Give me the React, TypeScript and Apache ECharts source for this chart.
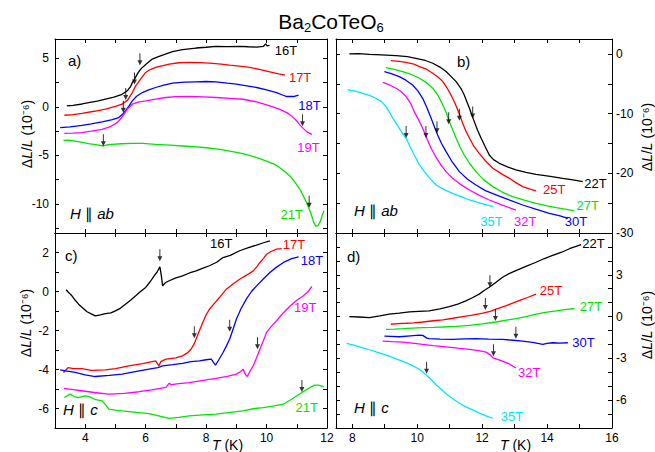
import React, { useEffect, useRef } from "react";
import * as echarts from "echarts";

const FONT = "'Liberation Sans', Arial, Helvetica, sans-serif";

// ---------- Panel a) H || ab, 16-21 T ----------
const A_16T = [[3.39,0.1],[3.6,0.15],[3.9,0.3],[4.11,0.45],[4.4,0.6],[4.67,0.8],[4.95,1.0],[5.22,1.3],[5.39,1.66],[5.5,2.1],[5.56,2.5],[5.65,2.95],[5.72,3.38],[5.8,3.75],[5.89,4.07],[6.05,4.5],[6.22,4.93],[6.4,5.15],[6.56,5.34],[6.89,5.69],[7.22,5.9],[7.67,6.07],[8.0,6.15],[8.33,6.24],[8.7,6.22],[9.11,6.24],[9.4,6.2],[9.67,6.17],[9.9,6.25],[9.97,6.5],[10.02,6.3],[10.1,6.35]];
const A_17T = [[3.31,-0.86],[3.6,-0.8],[3.89,-0.66],[4.3,-0.45],[4.67,-0.24],[5.0,0.05],[5.22,0.28],[5.4,0.7],[5.56,1.48],[5.67,2.17],[5.75,2.5],[5.83,2.86],[6.0,3.55],[6.15,3.85],[6.33,4.07],[6.78,4.41],[7.1,4.55],[7.44,4.59],[7.8,4.57],[8.11,4.52],[8.5,4.42],[8.78,4.31],[9.1,4.2],[9.44,4.07],[9.8,3.85],[10.11,3.62],[10.4,3.4],[10.61,3.28]];
const A_18T = [[3.17,-2.14],[3.5,-2.05],[3.89,-1.9],[4.2,-1.75],[4.56,-1.55],[4.9,-1.3],[5.11,-1.1],[5.25,-0.7],[5.33,-0.41],[5.45,0.1],[5.56,0.62],[5.7,1.1],[5.89,1.48],[6.1,1.75],[6.33,2.0],[6.6,2.25],[6.89,2.45],[7.3,2.55],[7.67,2.59],[8.0,2.62],[8.33,2.59],[8.7,2.45],[9.0,2.34],[9.3,2.2],[9.67,2.0],[10.0,1.75],[10.33,1.48],[10.55,1.2],[10.67,1.07],[10.89,1.07],[11.06,1.21]];
const A_19T = [[3.31,-2.72],[3.6,-2.7],[3.89,-2.66],[4.2,-2.5],[4.56,-2.31],[4.85,-2.0],[5.06,-1.62],[5.18,-1.2],[5.28,-0.76],[5.4,-0.2],[5.56,0.28],[5.75,0.5],[6.0,0.62],[6.33,0.8],[6.67,0.97],[7.0,1.05],[7.44,1.07],[7.9,1.03],[8.33,0.97],[8.8,0.88],[9.22,0.79],[9.7,0.5],[10.11,0.1],[10.4,-0.2],[10.67,-0.59],[10.85,-1.0],[11.0,-1.45],[11.1,-1.85],[11.22,-2.24],[11.35,-2.6],[11.5,-2.83]];
const A_21T = [[3.28,-3.45],[3.45,-3.42],[3.67,-3.52],[3.9,-3.65],[4.11,-3.79],[4.4,-3.92],[4.61,-4.03],[4.75,-3.9],[4.89,-3.86],[5.2,-3.8],[5.56,-3.76],[5.9,-3.75],[6.33,-3.86],[6.8,-3.95],[7.22,-4.03],[7.6,-4.1],[8.0,-4.21],[8.4,-4.35],[8.78,-4.55],[9.1,-4.75],[9.44,-5.0],[9.7,-5.25],[10.0,-5.59],[10.25,-5.9],[10.44,-6.28],[10.6,-6.65],[10.78,-7.14],[10.95,-7.8],[11.11,-8.52],[11.22,-9.2],[11.33,-9.9],[11.42,-10.6],[11.5,-11.28],[11.56,-11.9],[11.63,-12.3],[11.7,-12.25],[11.78,-11.8],[11.85,-11.1],[11.9,-10.7]];
const A_ARROWS = [[5.81,4.3],[5.63,2.3],[5.34,0.7],[5.26,-0.6],[4.6,-4.05],[11.19,-2.0],[11.41,-10.4]];
const A_LABEL_AT = [[10.64,5.79],[11.11,3.03],[11.42,0.1],[11.39,-4.21],[10.83,-11.1]];

// ---------- Panel b) H || ab, 22-35 T ----------
const B_22T = [[7.91,0],[8.2,0.05],[8.53,-0.06],[8.9,-0.15],[9.35,-0.28],[9.7,-0.45],[9.96,-0.73],[10.25,-1.1],[10.48,-1.56],[10.7,-2.2],[10.89,-2.96],[11.05,-3.8],[11.2,-4.64],[11.35,-5.8],[11.45,-6.87],[11.53,-8.0],[11.61,-9.1],[11.68,-10.2],[11.76,-11.34],[11.86,-12.8],[11.97,-14.13],[12.1,-15.6],[12.22,-16.93],[12.35,-17.7],[12.53,-18.32],[12.8,-18.95],[13.04,-19.44],[13.35,-19.85],[13.66,-20.17],[14.1,-20.5],[14.48,-20.84],[14.8,-21.1],[15.1,-21.4]];
const B_25T = [[9.19,-1.12],[9.45,-1.25],[9.66,-1.4],[9.9,-1.7],[10.07,-2.12],[10.3,-2.6],[10.48,-3.24],[10.65,-3.9],[10.79,-4.64],[10.92,-5.7],[11.04,-6.87],[11.15,-8.1],[11.25,-9.39],[11.33,-10.5],[11.4,-11.62],[11.5,-12.9],[11.61,-14.13],[11.75,-15.5],[11.91,-16.65],[12.1,-17.9],[12.33,-19.16],[12.6,-20.1],[12.84,-20.84],[13.05,-21.6],[13.25,-22.23],[13.45,-22.6],[13.66,-22.96]];
const B_27T = [[9.04,-2.29],[9.3,-2.6],[9.55,-2.96],[9.8,-3.4],[10.07,-4.08],[10.28,-4.8],[10.48,-5.75],[10.65,-7.0],[10.79,-8.55],[10.9,-9.9],[10.99,-11.34],[11.1,-12.8],[11.2,-14.13],[11.32,-15.6],[11.45,-16.93],[11.62,-18.4],[11.81,-19.72],[12.05,-21.1],[12.33,-22.23],[12.6,-23.1],[12.94,-23.91],[13.3,-24.5],[13.66,-25.03],[14.0,-25.45],[14.28,-25.75],[14.6,-26.05],[14.84,-26.31]];
const B_30T = [[8.99,-2.96],[9.2,-3.3],[9.45,-3.8],[9.65,-4.4],[9.86,-5.2],[10.02,-6.2],[10.17,-7.43],[10.3,-9.0],[10.43,-10.78],[10.53,-12.2],[10.63,-13.58],[10.75,-15.0],[10.89,-16.37],[11.08,-18.1],[11.3,-19.72],[11.55,-21.0],[11.81,-21.96],[12.1,-22.9],[12.43,-23.63],[12.85,-24.5],[13.25,-25.31],[13.65,-26.0],[14.07,-26.7],[14.4,-27.15],[14.64,-27.54]];
const B_32T = [[8.94,-4.75],[9.15,-5.2],[9.35,-5.75],[9.5,-6.3],[9.66,-7.15],[9.8,-8.3],[9.91,-9.66],[10.04,-11.0],[10.17,-12.46],[10.3,-14.2],[10.43,-15.81],[10.58,-17.3],[10.73,-18.6],[10.9,-19.8],[11.09,-20.84],[11.35,-21.9],[11.61,-22.79],[11.9,-23.65],[12.22,-24.47],[12.6,-25.3],[13.04,-26.15]];
const B_35T = [[7.86,-6.03],[8.1,-6.25],[8.32,-6.59],[8.53,-6.95],[8.73,-7.43],[8.9,-8.0],[9.04,-8.83],[9.15,-9.8],[9.25,-10.78],[9.35,-11.6],[9.45,-12.46],[9.55,-13.3],[9.66,-14.13],[9.78,-15.5],[9.91,-16.93],[10.05,-18.4],[10.22,-19.72],[10.4,-20.9],[10.58,-21.96],[10.82,-22.7],[11.09,-23.35],[11.35,-23.9],[11.61,-24.47],[11.95,-25.0],[12.33,-25.59]];
const B_ARROWS = [[11.71,-10.8],[11.3,-11.2],[10.97,-11.8],[10.61,-13.3],[10.27,-14.1],[9.66,-14.1]];
const B_LABEL_AT = [[15.49,-21.79],[14.22,-22.79],[15.25,-25.42],[14.89,-28.1],[13.33,-28.1],[12.29,-27.99]];

// ---------- Panel c) H || c, 16-21 T ----------
const C_16T = [[3.37,0.09],[3.45,-0.05],[3.56,-0.22],[3.67,-0.45],[3.78,-0.65],[3.92,-0.85],[4.06,-1.04],[4.2,-1.15],[4.33,-1.25],[4.5,-1.2],[4.67,-1.13],[4.85,-1.1],[5.0,-0.99],[5.17,-0.85],[5.33,-0.65],[5.5,-0.45],[5.67,-0.22],[5.83,0.0],[6.0,0.21],[6.15,0.5],[6.28,0.8],[6.38,1.0],[6.47,1.26],[6.52,0.8],[6.56,0.29],[6.65,0.45],[6.78,0.55],[7.0,0.7],[7.22,0.8],[7.45,0.95],[7.67,1.06],[7.9,1.2],[8.11,1.32],[8.35,1.5],[8.56,1.74],[8.8,1.85],[9.11,2.09],[9.4,2.25],[9.67,2.38],[9.9,2.5],[10.11,2.6]];
const C_17T = [[3.28,-4.15],[3.44,-3.9],[3.6,-3.95],[3.89,-3.95],[4.2,-4.05],[4.67,-4.02],[5.0,-3.95],[5.44,-3.81],[5.9,-3.7],[6.33,-3.56],[6.44,-3.81],[6.5,-3.6],[6.67,-3.47],[7.0,-3.4],[7.22,-3.3],[7.38,-3.15],[7.5,-2.96],[7.6,-2.7],[7.67,-2.44],[7.78,-2.0],[7.89,-1.59],[8.0,-1.2],[8.11,-0.91],[8.28,-0.6],[8.44,-0.31],[8.67,0.12],[8.9,0.4],[9.11,0.63],[9.35,0.85],[9.56,1.06],[9.67,1.25],[9.78,1.49],[9.9,1.7],[10.0,1.91],[10.15,2.05],[10.33,2.17],[10.5,2.2]];
const C_18T = [[3.17,-4.02],[3.4,-4.08],[3.67,-4.15],[4.0,-4.28],[4.33,-4.36],[4.8,-4.3],[5.22,-4.24],[5.7,-4.1],[6.11,-3.98],[6.4,-3.9],[6.56,-3.81],[6.9,-3.75],[7.22,-3.69],[7.5,-3.6],[7.78,-3.56],[8.0,-3.5],[8.17,-3.47],[8.25,-3.65],[8.31,-3.78],[8.42,-3.5],[8.56,-3.13],[8.67,-2.8],[8.78,-2.44],[8.9,-1.9],[9.0,-1.42],[9.15,-0.9],[9.33,-0.39],[9.5,0.0],[9.67,0.29],[9.9,0.65],[10.11,0.97],[10.33,1.25],[10.56,1.49],[10.83,1.69],[11.06,1.78]];
const C_19T = [[3.3,-4.97],[3.6,-5.03],[3.89,-5.09],[4.3,-5.18],[4.78,-5.26],[5.3,-5.22],[5.78,-5.14],[6.2,-5.05],[6.67,-4.92],[6.78,-4.7],[6.85,-4.78],[7.1,-4.72],[7.44,-4.67],[7.9,-4.56],[8.33,-4.46],[8.7,-4.35],[9.0,-4.24],[9.15,-4.1],[9.22,-3.98],[9.3,-4.25],[9.36,-4.36],[9.45,-4.1],[9.56,-3.81],[9.67,-3.4],[9.78,-2.96],[9.9,-2.5],[10.0,-2.1],[10.15,-1.8],[10.33,-1.5],[10.55,-1.1],[10.78,-0.74],[11.0,-0.45],[11.22,-0.22],[11.38,0.0],[11.5,0.26]];
const C_21T = [[3.31,-5.44],[3.5,-5.26],[3.65,-5.4],[3.78,-5.44],[4.0,-5.35],[4.11,-5.38],[4.35,-5.55],[4.56,-5.61],[4.7,-5.85],[4.78,-6.03],[5.0,-6.08],[5.22,-6.12],[5.7,-6.2],[6.11,-6.26],[6.5,-6.4],[6.78,-6.51],[7.1,-6.45],[7.44,-6.38],[7.9,-6.33],[8.33,-6.29],[8.8,-6.2],[9.22,-6.12],[9.6,-6.0],[9.89,-5.95],[10.2,-5.88],[10.56,-5.78],[10.8,-5.55],[11.0,-5.35],[11.2,-5.15],[11.44,-4.92],[11.6,-4.8],[11.72,-4.8],[11.89,-4.89]];
const C_ARROWS = [[6.47,1.55],[7.61,-2.4],[8.78,-2.07],[9.7,-2.96],[11.17,-5.15]];
const C_LABEL_AT = [[8.5,2.48],[10.91,2.43],[11.5,1.57],[11.28,-0.82],[11.33,-5.95]];

// ---------- Panel d) H || c, 22-35 T ----------
const D_22T = [[7.91,0],[8.2,-0.03],[8.53,-0.07],[8.85,0.05],[9.14,0.17],[9.45,0.25],[9.76,0.34],[10.05,0.38],[10.37,0.41],[10.7,0.55],[10.99,0.72],[11.25,0.9],[11.5,1.13],[11.7,1.35],[11.91,1.61],[12.05,1.85],[12.22,2.1],[12.42,2.45],[12.63,2.82],[12.83,3.08],[13.04,3.3],[13.35,3.6],[13.66,3.9],[13.9,4.15],[14.17,4.39],[14.45,4.62],[14.69,4.87],[15.05,5.16]];
const D_25T = [[9.19,-0.55],[9.4,-0.5],[9.66,-0.48],[9.9,-0.45],[10.17,-0.39],[10.5,-0.3],[10.79,-0.24],[11.1,-0.12],[11.4,0],[11.7,0.1],[12.02,0.24],[12.25,0.38],[12.43,0.53],[12.7,0.75],[12.94,0.96],[13.2,1.2],[13.4,1.37],[13.66,1.61]];
const D_27T = [[9.04,-0.92],[9.3,-0.9],[9.55,-0.87],[9.85,-0.83],[10.17,-0.8],[10.5,-0.78],[10.79,-0.75],[11.2,-0.7],[11.61,-0.63],[12.0,-0.52],[12.43,-0.39],[12.75,-0.26],[13.04,-0.14],[13.35,0.0],[13.66,0.17],[13.95,0.3],[14.28,0.41],[14.55,0.5],[14.84,0.58]];
const D_30T = [[8.99,-1.4],[9.2,-1.42],[9.45,-1.45],[9.8,-1.38],[10.05,-1.33],[10.17,-1.35],[10.3,-1.55],[10.37,-1.59],[10.7,-1.62],[11.09,-1.64],[11.45,-1.6],[11.81,-1.59],[12.2,-1.62],[12.63,-1.64],[12.95,-1.7],[13.25,-1.76],[13.55,-1.85],[13.87,-2.0],[14.0,-1.93],[14.17,-1.88],[14.4,-1.9],[14.64,-1.88]];
const D_32T = [[8.94,-1.76],[9.25,-1.8],[9.55,-1.83],[9.85,-1.9],[10.17,-2.0],[10.5,-2.08],[10.89,-2.17],[11.25,-2.27],[11.61,-2.36],[11.9,-2.45],[12.12,-2.55],[12.25,-2.75],[12.33,-2.96],[12.45,-3.05],[12.63,-3.2],[12.85,-3.42],[13.04,-3.69]];
const D_35T = [[7.83,-1.93],[8.05,-2.05],[8.32,-2.24],[8.55,-2.4],[8.83,-2.6],[9.1,-2.8],[9.35,-3.04],[9.6,-3.25],[9.86,-3.52],[10.08,-3.8],[10.27,-4.17],[10.42,-4.5],[10.58,-4.89],[10.73,-5.2],[10.89,-5.54],[11.1,-5.9],[11.3,-6.22],[11.5,-6.48],[11.71,-6.7],[11.92,-6.93],[12.12,-7.13],[12.33,-7.3]];
const D_ARROWS = [[12.24,2.1],[12.1,0.48],[12.41,-0.31],[13.04,-1.59],[12.35,-2.84],[10.29,-4.1]];
const D_LABEL_AT = [[15.43,5.23],[14.12,1.86],[15.35,0.72],[15.12,-1.83],[13.45,-4.05],[12.92,-7.18]];

// ---------- axes ----------
const LOW_FIELDS = ["16T", "17T", "18T", "19T", "21T"];
const HIGH_FIELDS = ["22T", "25T", "27T", "30T", "32T", "35T"];
const LOW_COLORS = ["#000000", "#ff0000", "#0000ff", "#ff00ff", "#00e600"];
const HIGH_COLORS = ["#000000", "#ff0000", "#00e600", "#0000ff", "#ff00ff", "#00e5ff"];

const X_LOW_TICKS = [4, 5, 6, 7, 8, 9, 10, 11];
const X_LOW_LABELS = [4, 6, 8, 10, 12];
const X_HIGH_TICKS = [8, 9, 10, 11, 12, 13, 14, 15];
const X_HIGH_LABELS = [8, 10, 12, 14, 16];
const YA_TICKS = [-12.5, -10, -7.5, -5, -2.5, 0, 2.5, 5];
const YA_LABELS = [-10, -5, 0, 5];
const YB_TICKS = [-25, -20, -15, -10, -5, 0];
const YB_LABELS = [-30, -20, -10, 0];
const YC_TICKS = [-6, -5, -4, -3, -2, -1, 0, 1, 2];
const YC_LABELS = [-6, -4, -2, 0, 2];
const YD_TICKS = [-7, -6, -5, -4, -3, -2, -1, 0, 1, 2, 3, 4, 5];
const YD_LABELS = [-6, -3, 0, 3];

const ARROW_PATH = "path://M4,0 L6,0 L6,14 L10,14 L5,24 L0,14 L4,14 Z";

function axisBase(gridIndex: number, min: number, max: number, ticks: number[]) {
  return {
    type: "value",
    gridIndex,
    min,
    max,
    splitLine: { show: false },
    axisLine: { show: true, onZero: false, lineStyle: { color: "#000", width: 1 } },
    axisTick: { show: true, inside: true, length: 4, customValues: ticks, lineStyle: { color: "#000", width: 1 } },
  };
}

function labelStyle(labels: number[] | null, margin: number) {
  if (!labels) return { show: false };
  return { show: true, customValues: labels, margin, fontSize: 12, color: "#000", fontFamily: FONT };
}

function xPair(g: number, min: number, max: number, ticks: number[], labels: number[] | null) {
  return [
    { ...axisBase(g, min, max, ticks), position: "bottom", axisLabel: labelStyle(labels, 4) },
    { ...axisBase(g, min, max, ticks), position: "top", axisLabel: { show: false } },
  ];
}

function yPair(g: number, min: number, max: number, ticks: number[], labels: number[], side: "left" | "right") {
  return [
    { ...axisBase(g, min, max, ticks), position: side, axisLabel: labelStyle(labels, side === "left" ? 6 : 4) },
    { ...axisBase(g, min, max, ticks), position: side === "left" ? "right" : "left", axisLabel: { show: false } },
  ];
}

function curves(g: number, arrays: number[][][], names: string[], colors: string[], labelAt: number[][]) {
  return arrays.map((data, i) => ({
    type: "line",
    name: names[i],
    xAxisIndex: 2 * g,
    yAxisIndex: 2 * g,
    data,
    showSymbol: false,
    symbol: "none",
    silent: true,
    lineStyle: { color: colors[i], width: 1.3 },
    itemStyle: { color: colors[i] },
    markPoint: {
      symbol: "circle",
      symbolSize: 1,
      silent: true,
      itemStyle: { color: "rgba(0,0,0,0)" },
      label: { show: true, position: "inside", formatter: names[i], color: colors[i], fontSize: 13, fontFamily: FONT },
      data: [{ coord: labelAt[i], value: names[i] }],
    },
  }));
}

function arrows(g: number, data: number[][]) {
  return {
    type: "scatter",
    xAxisIndex: 2 * g,
    yAxisIndex: 2 * g,
    data,
    symbol: ARROW_PATH,
    symbolSize: [5, 12],
    symbolOffset: [0, -6],
    silent: true,
    itemStyle: { color: "#000" },
    z: 5,
  };
}

function txt(x: number, y: number, text: string, size: number, extra: any = {}) {
  return {
    type: "text",
    x,
    y,
    silent: true,
    style: {
      text,
      fontSize: size,
      fontFamily: FONT,
      fill: "#000",
      align: "left",
      verticalAlign: "middle",
      rich: {
        i: { fontStyle: "italic", fontSize: size, fontFamily: FONT, fill: "#000" },
      },
      ...extra,
    },
  };
}

function yTitle(x: number, y: number) {
  return {
    type: "text",
    x,
    y,
    rotation: Math.PI / 2,
    silent: true,
    style: {
      text: "Δ{i|L}/{i|L} (10⁻⁶)",
      fontSize: 14,
      fontFamily: FONT,
      fill: "#000",
      align: "center",
      verticalAlign: "middle",
      rich: { i: { fontStyle: "italic", fontSize: 14, fontFamily: FONT, fill: "#000" } },
    },
  };
}

function measure(text: string, size: number) {
  const c = document.createElement("canvas").getContext("2d");
  if (!c) return text.length * size * 0.6;
  c.font = `${size}px ${FONT}`;
  return c.measureText(text).width;
}

function titleParts(cx: number) {
  const parts: [string, number, number][] = [["Ba", 21, 21], ["2", 13, 27.5], ["CoTeO", 21, 21], ["6", 13, 27.5]];
  const widths = parts.map(([t, s]) => measure(t, s));
  const total = widths.reduce((a, b) => a + b, 0);
  let x = cx - total / 2;
  return parts.map(([t, s, y], i) => {
    const el = txt(x, y, t, s);
    x += widths[i];
    return el;
  });
}

export default function App() {
  const ref = useRef<HTMLDivElement>(null);
  useEffect(() => {
    if (!ref.current) return;
    const chart = echarts.init(ref.current, null, { renderer: "svg" });
    const option: any = {
      animation: false,
      backgroundColor: "#ffffff",
      grid: [
        { left: 55, top: 39, width: 272, height: 194 },
        { left: 336, top: 39, width: 276, height: 194 },
        { left: 55, top: 233, width: 272, height: 195 },
        { left: 336, top: 233, width: 276, height: 195 },
      ],
      xAxis: [
        ...xPair(0, 3, 12, X_LOW_TICKS, null),
        ...xPair(1, 7.5, 16, X_HIGH_TICKS, null),
        ...xPair(2, 3, 12, X_LOW_TICKS, X_LOW_LABELS),
        ...xPair(3, 7.5, 16, X_HIGH_TICKS, X_HIGH_LABELS),
      ],
      yAxis: [
        ...yPair(0, -13, 7, YA_TICKS, YA_LABELS, "left"),
        ...yPair(1, -30, 2.5, YB_TICKS, YB_LABELS, "right"),
        ...yPair(2, -7, 3, YC_TICKS, YC_LABELS, "left"),
        ...yPair(3, -8, 6, YD_TICKS, YD_LABELS, "right"),
      ],
      series: [
        ...curves(0, [A_16T, A_17T, A_18T, A_19T, A_21T], LOW_FIELDS, LOW_COLORS, A_LABEL_AT),
        arrows(0, A_ARROWS),
        ...curves(1, [B_22T, B_25T, B_27T, B_30T, B_32T, B_35T], HIGH_FIELDS, HIGH_COLORS, B_LABEL_AT),
        arrows(1, B_ARROWS),
        ...curves(2, [C_16T, C_17T, C_18T, C_19T, C_21T], LOW_FIELDS, LOW_COLORS, C_LABEL_AT),
        arrows(2, C_ARROWS),
        ...curves(3, [D_22T, D_25T, D_27T, D_30T, D_32T, D_35T], HIGH_FIELDS, HIGH_COLORS, D_LABEL_AT),
        arrows(3, D_ARROWS),
      ],
      graphic: [
        ...titleParts(331),
        txt(68, 60, "a)", 15),
        txt(457, 61, "b)", 15),
        txt(65, 255, "c)", 15),
        txt(347, 256.5, "d)", 15),
        txt(70, 213, "{i|H} ∥ {i|ab}", 15),
        txt(354, 210, "{i|H} ∥ {i|ab}", 15),
        txt(63, 409, "{i|H} ∥ {i|c}", 15),
        txt(354, 407, "{i|H} ∥ {i|c}", 15),
        txt(212, 445, "{i|T} (K)", 14),
        txt(500, 445, "{i|T} (K)", 14),
        yTitle(27, 134),
        yTitle(26, 323),
        yTitle(647, 137),
        yTitle(647, 325),
      ],
    };
    chart.setOption(option);
    return () => chart.dispose();
  }, []);
  return (
    <div
      ref={ref}
      style={{ position: "absolute", left: 0, top: 0, width: 655, height: 452, background: "#fff" }}
    />
  );
}
